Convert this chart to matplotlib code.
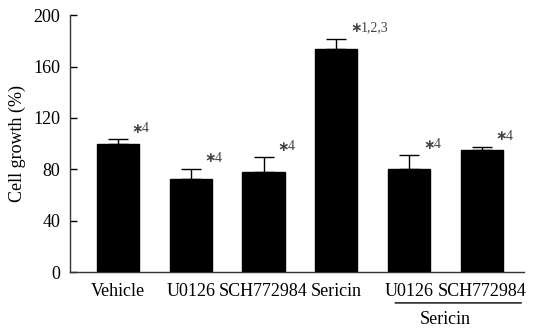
import numpy as np
import matplotlib
matplotlib.use('Agg')
import matplotlib.pyplot as plt

plt.rcParams['font.family'] = ['Liberation Serif', 'DejaVu Serif']

labels = ["Vehicle", "U0126", "SCH772984", "Sericin", "U0126", "SCH772984"]
values = [100.0, 72.6, 78.1, 173.3, 80.2, 95.2]
errors = [3.6, 7.8, 11.4, 8.5, 10.8, 2.3]
marks = ["4", "4", "4", "1,2,3", "4", "4"]
yticks = [0, 40, 80, 120, 160, 200]

fig = plt.figure(figsize=(5.5, 3.29), dpi=100)
ax = fig.add_axes([0.127, 0.173, 0.826, 0.781])

x = np.arange(len(labels))
lower = np.zeros(len(errors))
ax.bar(x, values, width=0.58, color="black", edgecolor="black", zorder=3)
ax.errorbar(x, values, yerr=[lower, errors], fmt="none", ecolor="black",
            elinewidth=1, capsize=7, capthick=1, zorder=2)

for xi, v, e, m in zip(x, values, errors, marks):
    # asterisk and group numbers
    ax.annotate("\u2217", xy=(xi, v + e), xytext=(10, 7.5),
                textcoords="offset points", fontsize=10, color="#444444",
                ha="left", va="center", family="DejaVu Sans", fontweight="bold")
    ax.annotate(m, xy=(xi, v + e), xytext=(17.5, 7.5),
                textcoords="offset points", fontsize=10, color="#444444",
                ha="left", va="center")

ax.set_xlim(-0.66, 5.58)
ax.set_ylim(0, 200)
ax.set_yticks(yticks)
ax.set_xticks(x)
ax.set_xticklabels(labels, fontsize=13)
ax.tick_params(axis="x", length=0, pad=8)
ax.tick_params(axis="y", direction="in", length=5, width=1, labelsize=13, pad=7)
ax.set_ylabel("Cell growth (%)", fontsize=13, labelpad=5)

for s in ["top", "right"]:
    ax.spines[s].set_visible(False)
for s in ["left", "bottom"]:
    ax.spines[s].set_linewidth(1)
    ax.spines[s].set_color("#333333")

# bracket under the combined treatments
ax.annotate("", xy=(3.77, -0.12), xytext=(5.58, -0.12), xycoords=("data", "axes fraction"),
            arrowprops=dict(arrowstyle="-", lw=1, color="black"))
ax.text(4.5, -0.185, "Sericin", transform=ax.get_xaxis_transform(),
        ha="center", va="center", fontsize=13)

fig.savefig("out.png", dpi=100)
